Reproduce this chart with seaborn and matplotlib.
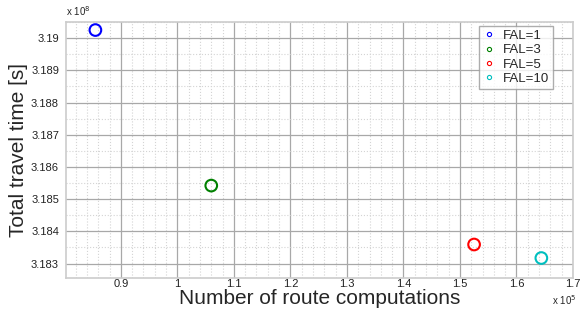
import matplotlib
matplotlib.use("Agg")
import matplotlib.pyplot as plt
import seaborn as sns
import pandas as pd
from matplotlib.ticker import MultipleLocator, FuncFormatter
from matplotlib.lines import Line2D

labels = ["FAL=1", "FAL=3", "FAL=5", "FAL=10"]
route_computations = [0.855e5, 1.060e5, 1.525e5, 1.644e5]
travel_time = [3.19025e8, 3.18542e8, 3.18359e8, 3.18317e8]
colors = ["#0000ff", "#008000", "#ff0000", "#00bfbf"]

df = pd.DataFrame({"x": route_computations, "y": travel_time, "FAL": labels})

sns.set_style("white")
plt.rcParams["font.family"] = ["Liberation Sans", "DejaVu Sans"]

fig = plt.figure(figsize=(5.81, 3.11), dpi=100)
ax = fig.add_axes([66/581, 1-278/311, (573-66)/581, (278-22)/311])

sns.scatterplot(data=df, x="x", y="y", hue="FAL", palette=colors, marker="o",
                s=70, linewidth=1.5, ax=ax, legend=False, zorder=3)
for c in ax.collections:
    c.set_facecolor("none")
    c.set_edgecolor(colors)

ax.set_xlim(0.803e5, 1.7e5)
ax.set_ylim(3.18255e8, 3.1905e8)
ax.xaxis.set_major_locator(MultipleLocator(0.1e5))
ax.xaxis.set_minor_locator(MultipleLocator(0.02e5))
ax.yaxis.set_major_locator(MultipleLocator(0.001e8))
ax.yaxis.set_minor_locator(MultipleLocator(0.0005e8))
ax.xaxis.set_major_formatter(FuncFormatter(lambda v, p: f"{v/1e5:g}"))
ax.yaxis.set_major_formatter(FuncFormatter(lambda v, p: f"{round(v/1e8, 4):g}"))

ax.grid(which="major", color="#a8a8a8", linestyle="-", linewidth=0.9)
ax.grid(which="minor", color="#d4d4d4", linestyle=":", linewidth=0.8)
ax.set_axisbelow(True)
ax.tick_params(which="major", length=3, labelsize=8, color="#555555", labelcolor="#222222",
               direction="out", pad=2)
ax.tick_params(axis="x", which="major", length=0, pad=1)
ax.tick_params(which="minor", length=0)
for s in ax.spines.values():
    s.set_color("#cccccc")
    s.set_linewidth(1.2)

ax.set_xlabel("Number of route computations", fontsize=15)
ax.xaxis.set_label_coords(0.5, -0.043)
ax.set_ylabel("Total travel time [s]", fontsize=15, labelpad=2)

ax.text(0.0, 1.015, r"x 10$^8$", transform=ax.transAxes, fontsize=7, ha="left", va="bottom")
fig.text(576/581, 1-300/311, r"x 10$^5$", fontsize=7, ha="right", va="center")

handles = [Line2D([], [], marker="o", linestyle="none", markerfacecolor="none",
                  markeredgecolor=c, markersize=3, markeredgewidth=0.8) for c in colors]
leg = ax.legend(handles, labels, loc="upper right", bbox_to_anchor=(0.965, 0.995),
                fontsize=9.5, frameon=True, fancybox=False, handlelength=1.0,
                handletextpad=0.5, borderpad=0.3, labelspacing=0.15, borderaxespad=0.2)
leg.get_frame().set_edgecolor("#999999")
leg.get_frame().set_linewidth(1.0)

fig.savefig("out.png", dpi=100)
